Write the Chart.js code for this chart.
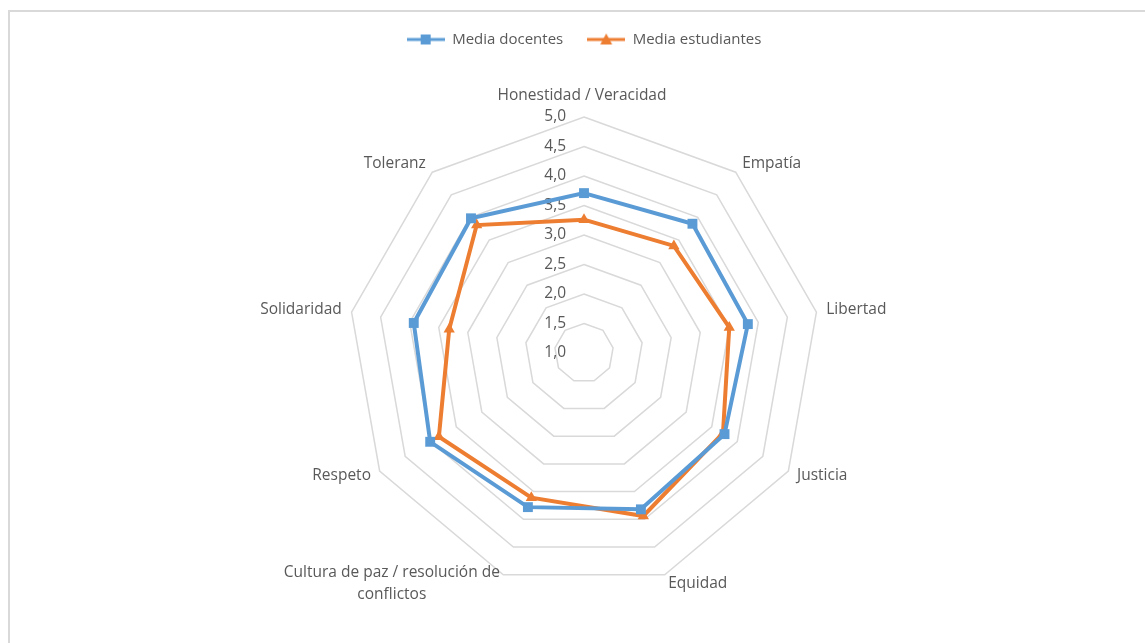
<!DOCTYPE html>
<html>
<head>
<meta charset="utf-8">
<script src="https://cdn.jsdelivr.net/npm/chart.js@4.4.1/dist/chart.umd.min.js"></script>
<style>
  html, body { margin: 0; padding: 0; background: #fff; }
  #wrap { position: relative; width: 1145px; height: 643px; overflow: hidden; }
  #frame { position: absolute; left: 8px; top: 10px; width: 1200px; height: 700px;
           border-top: 2px solid #d9d9d9; border-left: 2px solid #d9d9d9; }
  canvas { position: absolute; left: 0; top: 0; }
</style>
</head>
<body>
<div id="wrap">
  <div id="frame"></div>
  <canvas id="chart" width="1145" height="643"></canvas>
</div>
<script>
// categorías (sentido horario desde arriba)
const categories = [
    'Honestidad / Veracidad',
    'Empatía',
    'Libertad',
    'Justicia',
    'Equidad',
    ['Cultura de paz / resolución de', 'conflictos'],
    'Respeto',
    'Solidaridad',
    'Toleranz',
];

const mediaDocentes    = [3.71, 3.86, 3.82, 3.75, 3.82, 3.78, 4.01, 3.93, 3.98];
const mediaEstudiantes = [3.26, 3.37, 3.50, 3.72, 3.94, 3.61, 3.84, 3.32, 3.83];

const scaleMin = 1;
const scaleMax = 5;
const scaleStep = 0.5;

const BLUE = '#5b9bd5';
const ORANGE = '#ed7d31';
const TEXT = '#595959';
const GRID = '#d9d9d9';
const FONT = '"Open Sans", "Noto Sans", sans-serif';
const LABEL_SIZE = 15.5;
const LINE_H = 22;

// legend symbol: line with marker in the middle
function legendSymbol(color, shape) {
    const c = document.createElement('canvas');
    c.width = 38;
    c.height = 14;
    const ctx = c.getContext('2d');
    ctx.strokeStyle = color;
    ctx.fillStyle = color;
    ctx.lineWidth = 3;
    ctx.beginPath();
    ctx.moveTo(0, 7);
    ctx.lineTo(38, 7);
    ctx.stroke();
    ctx.beginPath();
    if (shape === 'rect') {
        ctx.rect(14, 2, 10, 10);
    } else {
        ctx.moveTo(19, 1);
        ctx.lineTo(25, 12);
        ctx.lineTo(13, 12);
        ctx.closePath();
    }
    ctx.fill();
    return c;
}
const legendIcons = [legendSymbol(BLUE, 'rect'), legendSymbol(ORANGE, 'triangle')];

const fmt = v => v.toFixed(1).replace('.', ',');

// tick labels left of the top axis + category labels placed Excel-style
const axisText = {
    id: 'axisText',
    beforeDatasetsDraw(chart) {
        const s = chart.scales.r;
        const ctx = chart.ctx;
        ctx.save();
        ctx.font = LABEL_SIZE + 'px ' + FONT;
        ctx.fillStyle = TEXT;

        ctx.textAlign = 'right';
        ctx.textBaseline = 'middle';
        s.ticks.forEach(t => {
            const y = s.yCenter - s.getDistanceFromCenterForValue(t.value);
            ctx.fillText(fmt(t.value), s.xCenter - 18, y);
        });

        const n = chart.data.labels.length;
        chart.data.labels.forEach((lbl, i) => {
            const lines = Array.isArray(lbl) ? lbl : [lbl];
            const a = (Math.PI * 2 * i) / n;
            const sin = Math.sin(a), cos = Math.cos(a);
            const p = s.getPointPosition(i, s.drawingArea);
            const blockW = Math.max(...lines.map(l => ctx.measureText(l).width));
            let cx;
            if (sin > 0.1) cx = p.x + 10 * sin + blockW / 2;
            else if (sin < -0.1) cx = p.x + 10 * sin - blockW / 2;
            else cx = p.x - 2;
            let cy = p.y - 10 * cos - 0.5;
            if (i === 0) cy -= 11;
            const y0 = cy - ((lines.length - 1) * LINE_H) / 2;
            ctx.textAlign = 'center';
            lines.forEach((l, k) => ctx.fillText(l, cx, y0 + k * LINE_H));
        });
        ctx.restore();
    }
};

// extra space under the legend
const legendGap = {
    id: 'legendGap',
    beforeInit(chart) {
        const origFit = chart.legend.fit;
        chart.legend.fit = function () {
            origFit.bind(chart.legend)();
            this.height += 60;
        };
    }
};

new Chart(document.getElementById('chart'), {
    type: 'radar',
    data: {
        labels: categories,
        datasets: [
            {
                label: 'Media docentes',
                data: mediaDocentes,
                borderColor: BLUE,
                backgroundColor: BLUE,
                borderWidth: 4,
                pointStyle: 'rect',
                pointRadius: 7,
                pointBorderWidth: 0,
                fill: false,
            },
            {
                label: 'Media estudiantes',
                data: mediaEstudiantes,
                borderColor: ORANGE,
                backgroundColor: ORANGE,
                borderWidth: 4,
                pointStyle: 'triangle',
                pointRadius: 6.5,
                pointBorderWidth: 0,
                fill: false,
            },
        ],
    },
    options: {
        responsive: false,
        animation: false,
        layout: { padding: { left: 23, right: 0, top: 8, bottom: 53 } },
        plugins: {
            tooltip: { enabled: false },
            legend: {
                position: 'top',
                labels: {
                    color: TEXT,
                    font: { family: FONT, size: 15 },
                    usePointStyle: true,
                    pointStyleWidth: 38,
                    padding: 24,
                    generateLabels(chart) {
                        const items = Chart.defaults.plugins.legend.labels.generateLabels(chart);
                        items.forEach((it, i) => { it.pointStyle = legendIcons[i]; });
                        return items;
                    },
                },
            },
        },
        scales: {
            r: {
                min: scaleMin,
                max: scaleMax,
                ticks: { stepSize: scaleStep, display: false },
                grid: { color: GRID, lineWidth: 1.5, circular: false },
                angleLines: { display: false },
                pointLabels: { display: false },
            },
        },
    },
    plugins: [axisText, legendGap],
});
</script>
</body>
</html>
